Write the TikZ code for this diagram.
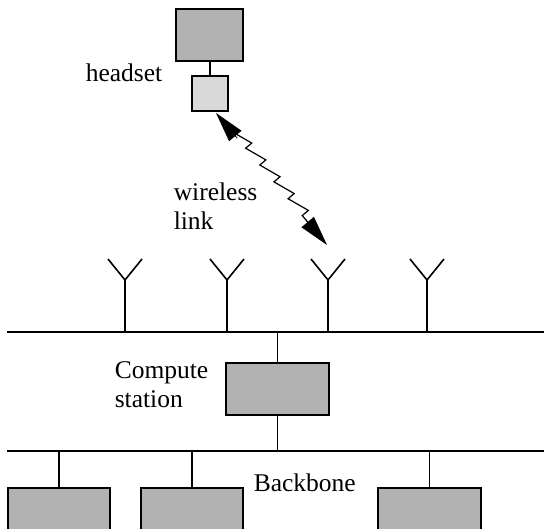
\documentclass[tikz,border=0pt]{standalone}
\usepackage{fontspec}
\setmainfont{Liberation Serif}
\usetikzlibrary{calc,arrows.meta,decorations.pathmorphing}
\begin{document}
\begin{tikzpicture}[x=1pt,y=-1pt,
  line width=1.6pt,
  box/.style={draw=black,fill=black!30,minimum width=102pt,minimum height=52pt,inner sep=0pt,outer sep=0pt},
  lbl/.style={font=\fontsize{25.5}{29}\selectfont,inner sep=0pt,align=left,anchor=base west},
  ant/.style={line width=1.6pt},
  tipstyle/.style={line width=0.8pt,-{Triangle[length=30pt,width=16pt]}}
]
\useasboundingbox (0,0) rectangle (544,529);
\clip (0,0) rectangle (544,529);

% headset
\node[box,minimum width=67pt,minimum height=52pt] (hs) at (209.5,35) {};
\node[box,fill=black!15,minimum width=36pt,minimum height=35pt] (hsr) at (210,93.5) {};
\draw (hs.south -| hsr.north) -- (hsr.north);
\node[lbl] (hslbl) at (85,82) {headset};

% wireless bus
\coordinate (busl) at (7,332);
\coordinate (busr) at (544,332);
\draw (busl) -- (busr);

% antennas
\foreach \i/\x in {1/125,2/227,3/328,4/427}{
  \coordinate (a\i) at (\x,280);
  \coordinate (a\i b) at (\x,332);
  \coordinate (a\i l) at (\x-17,259);
  \coordinate (a\i r) at (\x+17,259);
  \draw[ant] (a\i l) -- (a\i) -- (a\i r);
  \draw[ant] (a\i) -- (a\i b);
}

% wireless link
\coordinate (wt) at (216,113);
\coordinate (wb) at (327,245);
\draw[tipstyle] ($(wt)!33pt!(wb)$) -- (wt);
\draw[tipstyle] ($(wb)!33pt!(wt)$) -- (wb);
\draw[line width=1.2pt,decorate,decoration={saw,segment length=22pt,amplitude=8pt}]
  ($(wt)!24pt!(wb)$) -- ($(wb)!24pt!(wt)$);
\node[lbl] (wl) at (173,230) {wireless\\link};

% compute station
\node[box,minimum width=103pt] (cs) at (277.5,389) {};
\coordinate (csb1) at (cs.north |- busl);
\draw (csb1) -- (cs.north);
\node[lbl] (cslbl) at (114,408) {Compute\\station};

% backbone
\coordinate (bbl) at (7,451);
\coordinate (bbr) at (544,451);
\draw (bbl) -- (bbr);
\coordinate (csb2) at (cs.south |- bbl);
\draw (cs.south) -- (csb2);
\node[lbl] (bblbl) at (253,491) {Backbone};

% bottom hosts
\node[box] (h1) at (59,514) {};
\node[box] (h2) at (192,514) {};
\node[box,minimum width=103pt] (h3) at (429.5,514) {};
\foreach \h in {h1,h2,h3}{
  \draw (\h.north |- bbl) -- (\h.north);
}
\end{tikzpicture}
\end{document}
